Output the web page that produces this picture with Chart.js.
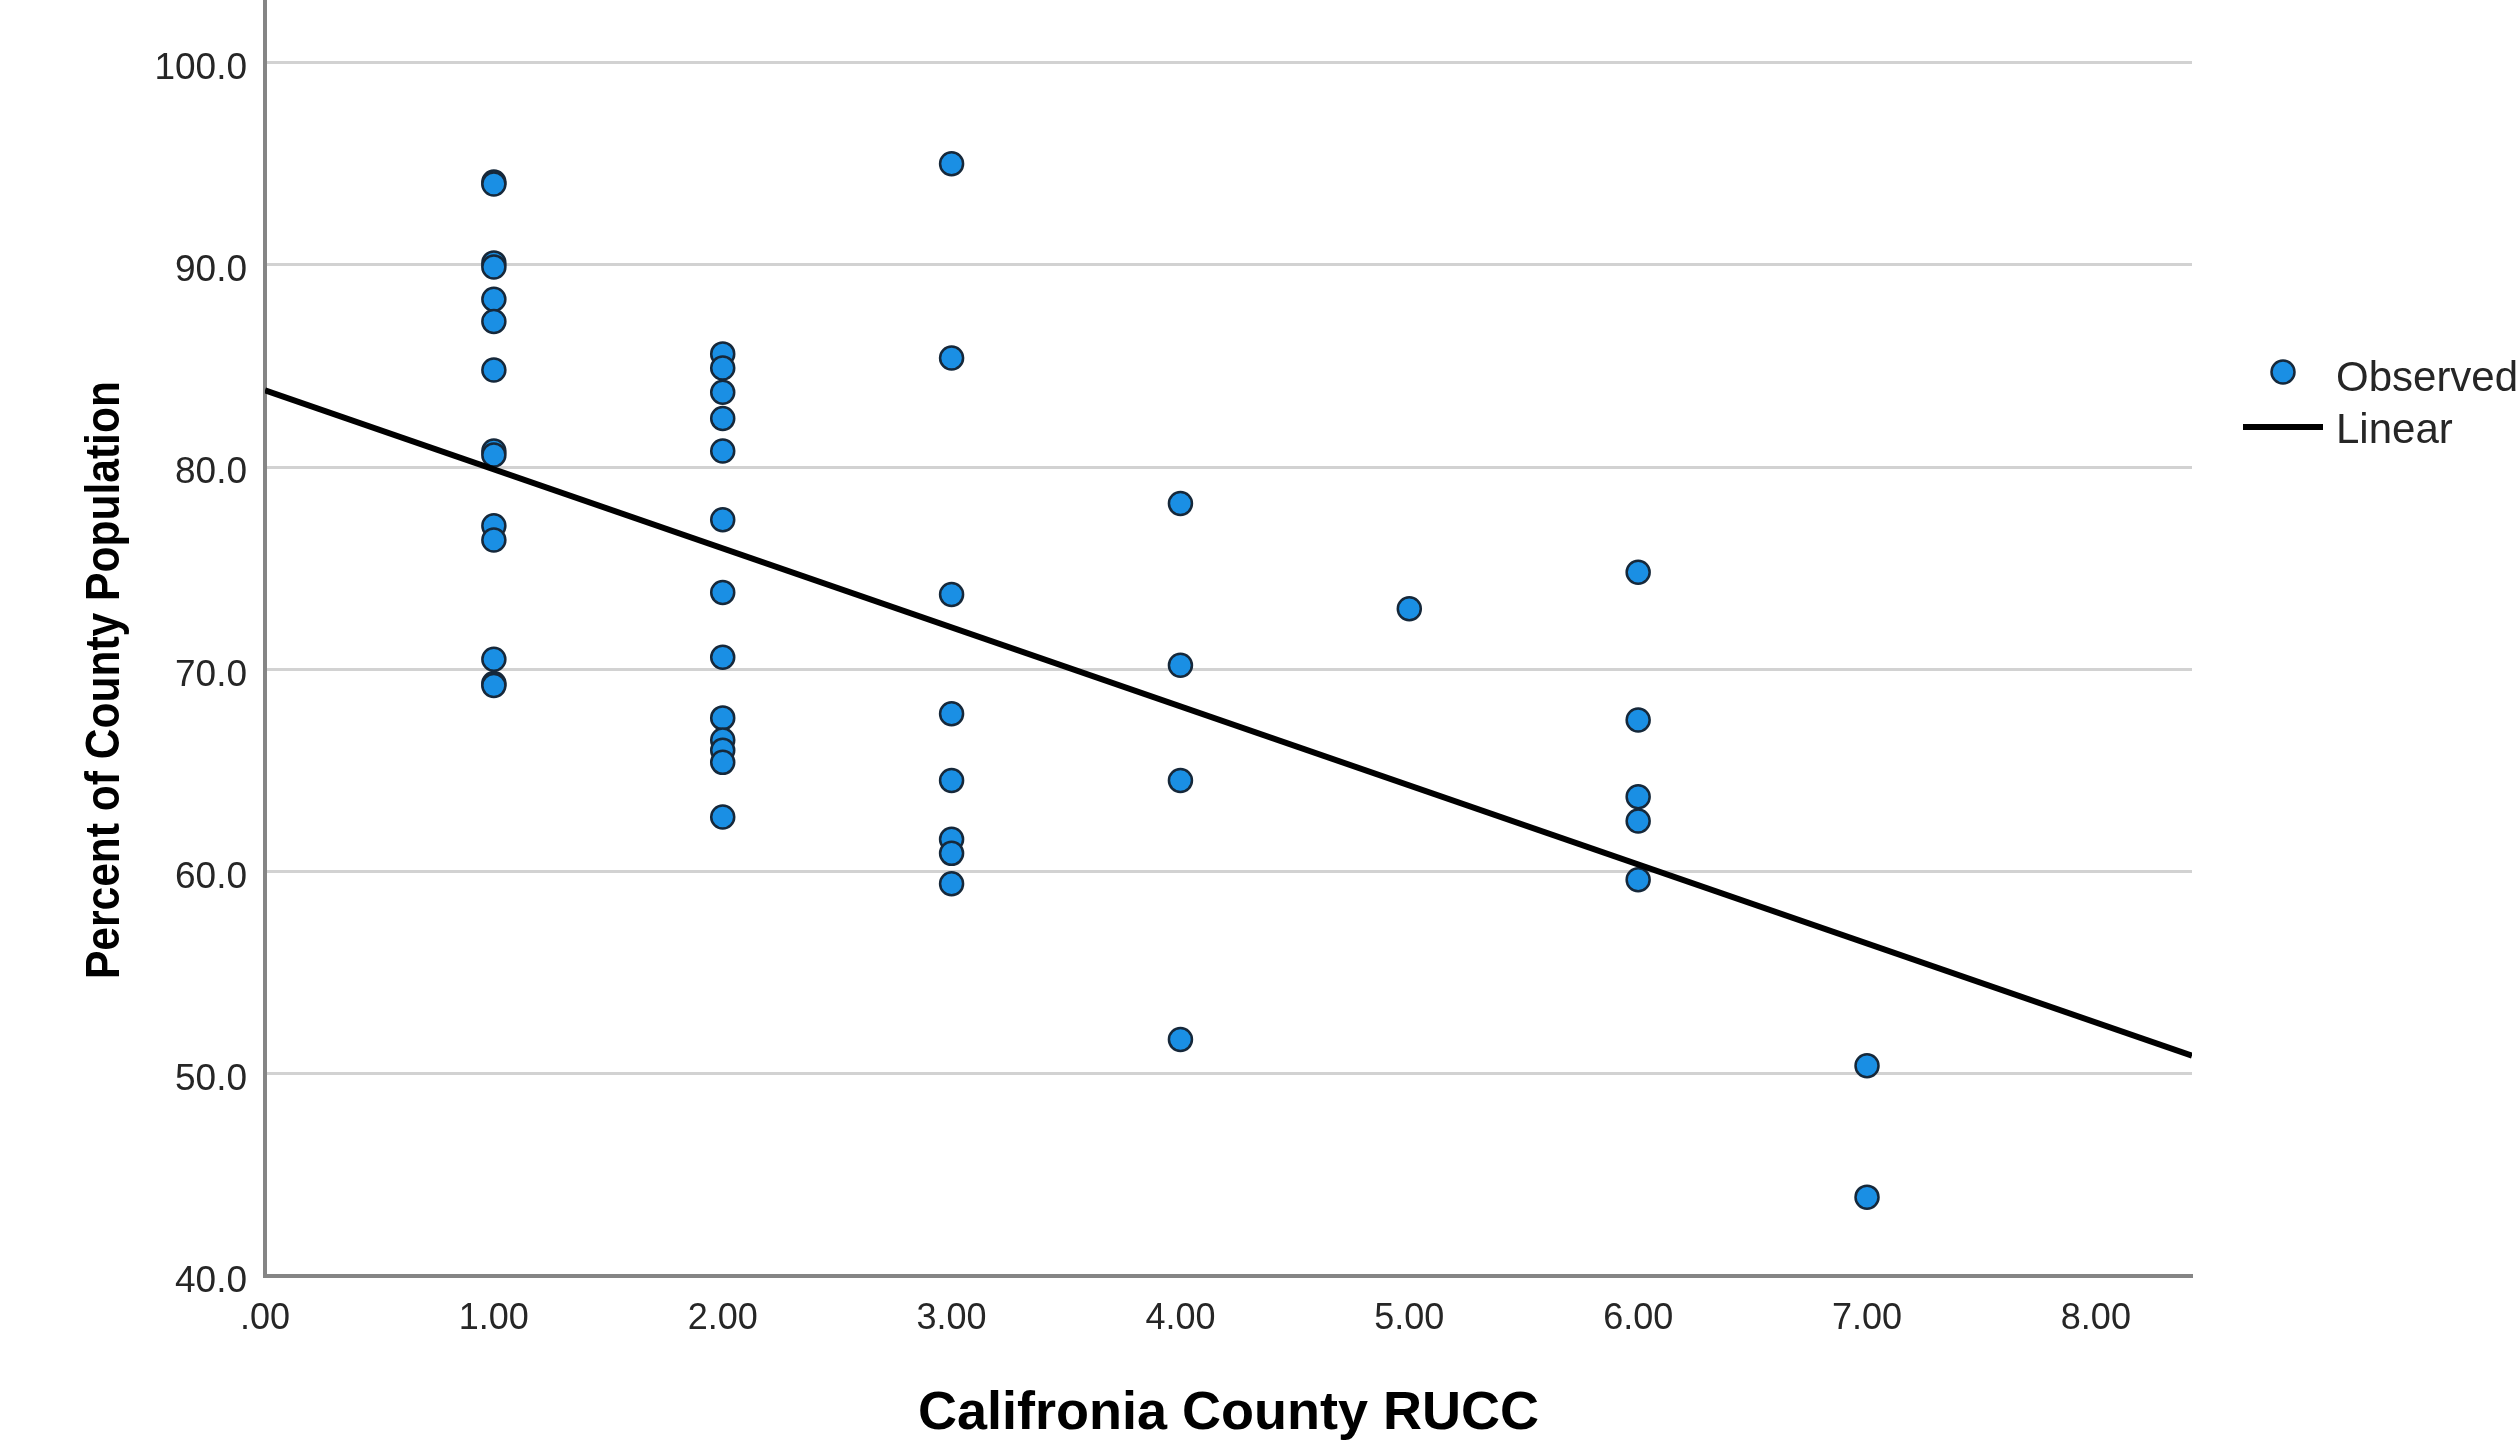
<!DOCTYPE html>
<html>
<head>
<meta charset="utf-8">
<title>Percent of County Population by California County RUCC</title>
<script src="https://cdn.jsdelivr.net/npm/chart.js@4.4.1/dist/chart.umd.min.js"></script>
<style>
  html, body { margin: 0; padding: 0; background: #ffffff; overflow: hidden; }
  canvas { display: block; }
</style>
</head>
<body>
<canvas id="chartRucc" width="2516" height="1441"></canvas>
<script>
// observed counties: RUCC code and percent of county population
const obsRucc = [
  1, 1, 1, 1, 1, 1, 1, 1, 1, 1, 1, 1, 1, 1,
  2, 2, 2, 2, 2, 2, 2, 2, 2, 2, 2, 2, 2,
  3, 3, 3, 3, 3, 3, 3, 3,
  4, 4, 4, 4,
  5,
  6, 6, 6, 6, 6,
  7, 7
];
const obsPct = [
  94.1, 94.0, 90.1, 89.9, 88.3, 87.2, 84.8, 80.8, 80.6, 77.1, 76.4, 70.5, 69.3, 69.2,
  85.6, 84.9, 83.7, 82.4, 80.8, 77.4, 73.8, 70.6, 67.6, 66.5, 66.0, 65.4, 62.7,
  95.0, 85.4, 73.7, 67.8, 64.5, 61.6, 60.9, 59.4,
  78.2, 70.2, 64.5, 51.7,
  73.0,
  74.8, 67.5, 63.7, 62.5, 59.6,
  50.4, 43.9
];

// linear fit line, read at the two ends of the plot
const fitRucc = [0, 8.42];
const fitPct = [83.8, 50.9];

const xTicks = [0, 1, 2, 3, 4, 5, 6, 7, 8];
const yTicks = [40, 50, 60, 70, 80, 90, 100];

const legendLabels = ["Observed", "Linear"];
const xTitle = "Califronia County RUCC";
const yTitle = "Percent of County Population";

const chartRucc = document.getElementById("chartRucc");

const pointFill = "#1a8fe4";
const pointBorder = "#16283a";
const textColor = "#262626";
const fontFamily = "'Liberation Sans', Arial, sans-serif";

const observedData = obsRucc.map((r, i) => ({ x: r, y: obsPct[i] }));
const linearData = fitRucc.map((r, i) => ({ x: r, y: fitPct[i] }));

// white background, y title and the legend on the right
const extrasPlugin = {
  id: "extras",
  beforeDraw: (chart) => {
    const ctx = chart.ctx;
    ctx.save();
    ctx.fillStyle = "#ffffff";
    ctx.fillRect(0, 0, chart.width, chart.height);
    ctx.restore();
  },
  afterDraw: (chart) => {
    const ctx = chart.ctx;
    const area = chart.chartArea;

    // y axis title, a bit condensed like the original
    ctx.save();
    ctx.font = "bold 48px " + fontFamily;
    ctx.fillStyle = "#000000";
    ctx.textAlign = "center";
    ctx.textBaseline = "middle";
    const w = ctx.measureText(yTitle).width;
    ctx.translate(106, area.top + (area.bottom - area.top) * 0.533);
    ctx.rotate(-Math.PI / 2);
    ctx.scale(598 / w, 1);
    ctx.fillText(yTitle, 0, 0);
    ctx.restore();

    // legend
    const lx = area.right + 91;
    ctx.save();
    ctx.beginPath();
    ctx.arc(lx, 372, 11.5, 0, Math.PI * 2);
    ctx.fillStyle = pointFill;
    ctx.fill();
    ctx.lineWidth = 2.5;
    ctx.strokeStyle = pointBorder;
    ctx.stroke();

    ctx.beginPath();
    ctx.moveTo(area.right + 51, 427);
    ctx.lineTo(area.right + 131, 427);
    ctx.lineWidth = 6;
    ctx.strokeStyle = "#000000";
    ctx.stroke();

    ctx.font = "42px " + fontFamily;
    ctx.fillStyle = textColor;
    ctx.textAlign = "left";
    ctx.textBaseline = "middle";
    ctx.fillText(legendLabels[0], area.right + 144, 379);
    ctx.fillText(legendLabels[1], area.right + 144, 431);
    ctx.restore();
  },
};

new Chart(chartRucc, {
  type: "scatter",
  data: {
    datasets: [
      {
        type: "line",
        label: legendLabels[1],
        data: linearData,
        borderColor: "#000000",
        borderWidth: 6,
        pointRadius: 0,
        fill: false,
        order: 0,
      },
      {
        label: legendLabels[0],
        data: observedData,
        backgroundColor: pointFill,
        borderColor: pointBorder,
        borderWidth: 2.5,
        pointRadius: 11.5,
        order: 1,
      },
    ],
  },
  options: {
    responsive: false,
    devicePixelRatio: 1,
    animation: false,
    layout: {
      autoPadding: false,
      padding: { left: 0, right: 324, top: 0, bottom: 0 },
    },
    plugins: {
      legend: { display: false },
      tooltip: { enabled: false },
    },
    scales: {
      x: {
        type: "linear",
        min: 0,
        max: 8.42,
        afterBuildTicks: (scale) => {
          scale.ticks = xTicks.map((v) => ({ value: v }));
        },
        afterFit: (scale) => {
          scale.height = 165;
          scale.paddingLeft = 0;
          scale.paddingRight = 0;
        },
        grid: { display: false, drawTicks: false },
        border: { display: true, color: "#858585", width: 4 },
        ticks: {
          padding: 21,
          color: textColor,
          font: { family: fontFamily, size: 36 },
          callback: (v) => (v === 0 ? ".00" : v.toFixed(2)),
          maxRotation: 0,
          autoSkip: false,
        },
        title: {
          display: true,
          text: xTitle,
          color: "#000000",
          font: { family: fontFamily, size: 54, weight: "bold", lineHeight: 1 },
          padding: { top: 0, bottom: 0 },
        },
      },
      y: {
        type: "linear",
        min: 40,
        max: 103.1,
        afterBuildTicks: (scale) => {
          scale.ticks = yTicks.map((v) => ({ value: v }));
        },
        afterFit: (scale) => {
          scale.width = 265;
          scale.paddingTop = 0;
          scale.paddingBottom = 0;
        },
        grid: { display: true, drawTicks: false, color: "#d2d2d2", lineWidth: 3 },
        border: { display: true, color: "#858585", width: 4 },
        ticks: {
          padding: 18,
          labelOffset: 6,
          color: textColor,
          font: { family: fontFamily, size: 37 },
          callback: (v) => v.toFixed(1),
          autoSkip: false,
        },
      },
    },
  },
  plugins: [extrasPlugin],
});
</script>
</body>
</html>
